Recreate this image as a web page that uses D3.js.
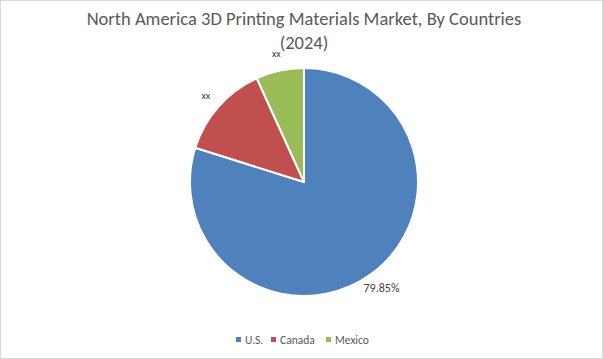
<!DOCTYPE html>
<html>
<head>
<meta charset="utf-8">
<script src="https://cdn.jsdelivr.net/npm/d3@7"></script>
<style>
  body { margin: 0; background: #fff; }
  text { font-family: Calibri, Carlito, Lato, sans-serif; }
</style>
</head>
<body>
<div id="chart"></div>
<script>
// data
const countries = ["U.S.", "Canada", "Mexico"];
const shares = [79.85, 13.35, 6.8];
const labels = ["79.85%", "xx", "xx"];
const colors = ["#4f81bd", "#c0504d", "#9bbb59"];

const width = 603, height = 359;
const cx = 304, cy = 182, radius = 114;

const svg = d3.select("#chart")
  .append("svg")
  .attr("width", width)
  .attr("height", height);

// chart border
svg.append("rect")
  .attr("x", 0.5).attr("y", 0.5)
  .attr("width", width - 1).attr("height", height - 1)
  .attr("fill", "#fff")
  .attr("stroke", "#d9d9d9");

// title
const title = svg.append("text")
  .attr("text-anchor", "middle")
  .attr("fill", "#595959")
  .attr("font-size", 18.5);
title.append("tspan").attr("x", 304).attr("y", 25)
  .text("North America 3D Printing Materials Market, By Countries");
title.append("tspan").attr("x", 304).attr("y", 49).text("(2024)");

const table = countries.map((c, i) => ({ name: c, value: shares[i], label: labels[i], color: colors[i] }));

// clockwise from top: U.S., then Canada, Mexico going back up the left side
const pie = d3.pie().sort(null).value(d => d.value)
  .startAngle(0).endAngle(2 * Math.PI);

const arc = d3.arc().innerRadius(0).outerRadius(radius);
const labelArc = d3.arc().innerRadius(radius + 17).outerRadius(radius + 17);

const g = svg.append("g").attr("transform", `translate(${cx},${cy})`);

const arcs = pie(table);

g.selectAll("path")
  .data(arcs)
  .join("path")
  .attr("d", arc)
  .attr("fill", d => d.data.color)
  .attr("stroke", "#fff")
  .attr("stroke-width", 2)
  .attr("stroke-linejoin", "round");

g.selectAll("text.lbl")
  .data(arcs)
  .join("text")
  .attr("class", "lbl")
  .attr("transform", d => {
    const [x, y] = labelArc.centroid(d);
    return `translate(${x},${y})`;
  })
  .attr("text-anchor", "middle")
  .attr("dy", "0.35em")
  .attr("fill", "#404040")
  .attr("font-size", d => d.data.label === "xx" ? 10 : 12)
  .text(d => d.data.label);

// legend
const legend = svg.append("g").attr("transform", "translate(0,340)");
const legendX = [236, 271, 326];
const items = legend.selectAll("g")
  .data(table)
  .join("g")
  .attr("transform", (d, i) => `translate(${legendX[i]},0)`);
items.append("rect")
  .attr("x", 0).attr("y", -3)
  .attr("width", 5).attr("height", 5)
  .attr("fill", d => d.color);
items.append("text")
  .attr("x", 9).attr("y", 0)
  .attr("dy", "0.35em")
  .attr("fill", "#595959")
  .attr("font-size", 11.5)
  .text(d => d.name);
</script>
</body>
</html>
